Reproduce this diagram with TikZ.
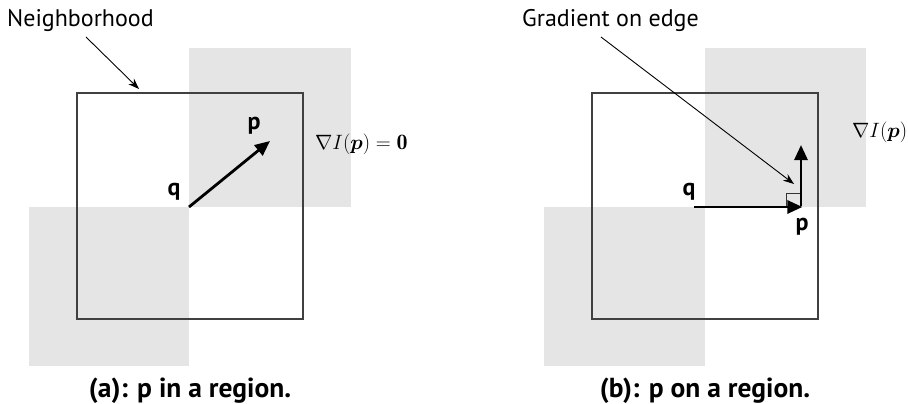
\documentclass[tikz,border=0pt]{standalone}
\usepackage{fontspec}
\usepackage{amsmath,bm}
\newfontfamily\labfont{PT Sans}
\usetikzlibrary{arrows.meta}
\begin{document}
\begin{tikzpicture}[x=1pt,y=-1pt,
  region/.style={fill=black!10,draw=none},
  nbhd/.style={draw=black!75,line width=1.3pt},
  vec/.style={line width=2.8pt,-{Triangle[length=15pt,width=13pt]}},
  pointer/.style={line width=0.9pt,-{Stealth[length=11pt,width=8pt]}},
  lab/.style={font=\labfont\fontsize{24}{26}\selectfont,inner sep=0pt},
  ptlab/.style={font=\labfont\bfseries\fontsize{24}{26}\selectfont,inner sep=0pt},
  captext/.style={font=\labfont\bfseries\fontsize{27.5}{30}\selectfont,inner sep=0pt},
  grad/.style={font=\fontsize{22}{24}\selectfont,inner sep=0pt}]
\useasboundingbox (0,0) rectangle (908,404);
\fill[white] (0,0) rectangle (908,404);
% ---- panel (a)
\path[region] (189,48) rectangle (351,207);
\path[region] (29,207) rectangle (189,366);
\draw[nbhd] (77,93) rectangle (303,319);
\coordinate (qa) at (189,207);
\coordinate (pa) at (270,141);
\draw[vec] (qa) -- (pa);
\node[ptlab] (qlaba) at (174,192) {q};
\node[ptlab] (plaba) at (254,126) {p};
\node[grad,anchor=west] (grada) at (315,144) {$\nabla I(\bm{p}) = \mathbf{0}$};
\node[lab,anchor=west] (nbtxt) at (7,21) {Neighborhood};
\coordinate (nbend) at (139,89);
\draw[pointer] (86,37) -- (nbend);
\node[captext] (capa) at (190,391) {(a): p in a region.};
% ---- panel (b)
\path[region] (705,48) rectangle (866,207);
\path[region] (544,207) rectangle (705,366);
\draw[nbhd] (592,93) rectangle (818,319);
\coordinate (qb) at (694,207);
\coordinate (pb) at (801,207);
\coordinate (gb) at (801,145);
\draw[line width=1pt,black!80] (786,207) |- (801,193);
\draw[vec] (qb) -- ([xshift=1.4pt]pb);
\draw[vec] ([yshift=1.4pt]pb) -- (gb);
\node[ptlab] (qlabb) at (689,192) {q};
\node[ptlab] (plabb) at (802,227) {p};
\node[grad,anchor=west] (gradb) at (852,132) {$\nabla I(\bm{p})$};
\node[lab,anchor=west] (getxt) at (522,21) {Gradient on edge};
\coordinate (geend) at (794,184);
\draw[pointer] (601,37) -- (geend);
\node[captext] (capb) at (705,391) {(b): p on a region.};
\end{tikzpicture}
\end{document}
